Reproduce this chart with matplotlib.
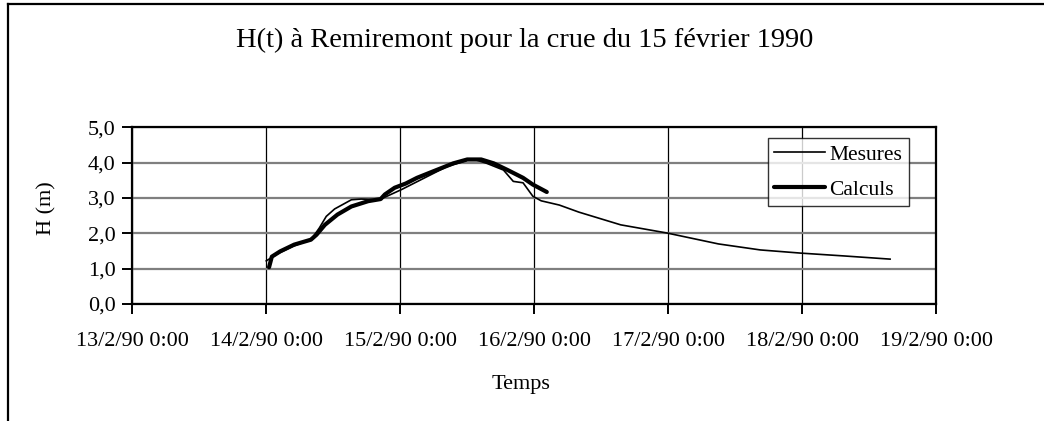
import pandas as pd
import matplotlib
matplotlib.use("Agg")
import matplotlib.pyplot as plt
import matplotlib.dates as mdates
from matplotlib.lines import Line2D
from matplotlib.ticker import FuncFormatter, MultipleLocator

TITLE = "H(t) à Remiremont pour la crue du 15 février 1990"

# measured water level (thin line)
mes_time = [
    "1990-02-14 00:00", "1990-02-14 02:00", "1990-02-14 04:45", "1990-02-14 07:15",
    "1990-02-14 08:15", "1990-02-14 09:30", "1990-02-14 10:45", "1990-02-14 12:15",
    "1990-02-14 15:15", "1990-02-14 17:00", "1990-02-14 20:15", "1990-02-15 00:15",
    "1990-02-15 04:00", "1990-02-15 08:15", "1990-02-15 12:00", "1990-02-15 13:30",
    "1990-02-15 15:30", "1990-02-15 18:30", "1990-02-15 20:15", "1990-02-15 22:00",
    "1990-02-15 23:45", "1990-02-16 01:15", "1990-02-16 04:30", "1990-02-16 08:00",
    "1990-02-16 15:30", "1990-02-16 23:45", "1990-02-17 09:00", "1990-02-17 16:30",
    "1990-02-17 23:45", "1990-02-18 07:30", "1990-02-18 15:45",
]
mes_h = [
    1.22, 1.42, 1.63, 1.78,
    1.87, 2.15, 2.48, 2.69,
    2.95, 2.97, 2.95, 3.24,
    3.54, 3.88, 4.07, 4.08,
    3.98, 3.79, 3.47, 3.43,
    3.05, 2.92, 2.80, 2.60,
    2.24, 2.01, 1.70, 1.53,
    1.44, 1.36, 1.27,
]

# computed water level (thick line)
calc_time = [
    "1990-02-14 00:30", "1990-02-14 01:00", "1990-02-14 02:30", "1990-02-14 05:00",
    "1990-02-14 08:00", "1990-02-14 09:00", "1990-02-14 10:30", "1990-02-14 12:45",
    "1990-02-14 15:15", "1990-02-14 18:15", "1990-02-14 20:30", "1990-02-14 21:15",
    "1990-02-14 23:00", "1990-02-15 01:00", "1990-02-15 03:00", "1990-02-15 06:00",
    "1990-02-15 09:30", "1990-02-15 12:00", "1990-02-15 14:30", "1990-02-15 16:45",
    "1990-02-15 19:15", "1990-02-15 22:00", "1990-02-15 23:45", "1990-02-16 02:15",
]
calc_h = [
    1.04, 1.34, 1.49, 1.68,
    1.82, 1.96, 2.24, 2.53,
    2.76, 2.91, 2.97, 3.10,
    3.29, 3.41, 3.57, 3.76,
    3.98, 4.09, 4.09, 3.98,
    3.79, 3.57, 3.38, 3.17,
]

x_start = "1990-02-13 00:00"
x_end = "1990-02-19 00:00"


def fmt_date(v, pos):
    d = mdates.num2date(v)
    return f"{d.day}/{d.month}/{d.year % 100:02d} {d.hour}:{d.minute:02d}"


def main():
    plt.rcParams["font.family"] = ["Liberation Serif", "DejaVu Serif"]

    fig = plt.figure(figsize=(10.44, 4.21), dpi=100)
    ax = fig.add_axes([0.1267, 0.2779, 0.7700, 0.4197])

    t_mes = pd.to_datetime(mes_time)
    t_calc = pd.to_datetime(calc_time)

    ax.plot(t_mes, mes_h, color="black", lw=1.2, label="Mesures", zorder=3)
    ax.plot(t_calc, calc_h, color="black", lw=3.0, label="Calculs", zorder=4,
            solid_joinstyle="round", solid_capstyle="round")

    ax.set_xlim(pd.Timestamp(x_start), pd.Timestamp(x_end))
    ax.set_ylim(0, 5)
    ax.xaxis.set_major_locator(mdates.DayLocator())
    ax.xaxis.set_major_formatter(FuncFormatter(fmt_date))
    ax.yaxis.set_major_locator(MultipleLocator(1))
    ax.yaxis.set_major_formatter(FuncFormatter(lambda v, p: f"{v:.1f}".replace(".", ",")))

    ax.grid(axis="x", color="black", lw=0.9)
    ax.grid(axis="y", color="#7f7f7f", lw=1.6)
    ax.set_axisbelow(True)
    for s in ax.spines.values():
        s.set_linewidth(1.6)
        s.set_color("black")
    ax.tick_params(direction="out", length=7, width=1.4, labelsize=16, pad=5)
    ax.tick_params(axis="x", pad=13)

    ax.set_xlabel("Temps", fontsize=16)
    ax.xaxis.set_label_coords(0.484, -0.40)
    ax.set_ylabel("H (m)", fontsize=16)
    ax.yaxis.set_label_coords(-0.094, 0.54)
    fig.text(0.503, 0.905, TITLE, ha="center", va="center", fontsize=20.5)

    leg = ax.legend(loc="upper left", bbox_to_anchor=(768 / 1044, 1 - 138 / 421),
                    bbox_transform=fig.transFigure, fancybox=False, frameon=True,
                    edgecolor="black", fontsize=15.5, handlelength=2.35,
                    handletextpad=0.2, labelspacing=0.7, borderpad=0.3,
                    borderaxespad=0)
    leg.get_frame().set_linewidth(1.0)
    leg.set_zorder(10)

    # outer chart border (top and left only, rest is cut off)
    fig.add_artist(Line2D([8 / 1044, 1.0], [1 - 4 / 421, 1 - 4 / 421],
                          color="black", lw=1.6, transform=fig.transFigure))
    fig.add_artist(Line2D([8 / 1044, 8 / 1044], [0.0, 1 - 4 / 421],
                          color="black", lw=1.6, transform=fig.transFigure))

    fig.savefig("out.png", dpi=100)
    plt.close(fig)


if __name__ == "__main__":
    main()
